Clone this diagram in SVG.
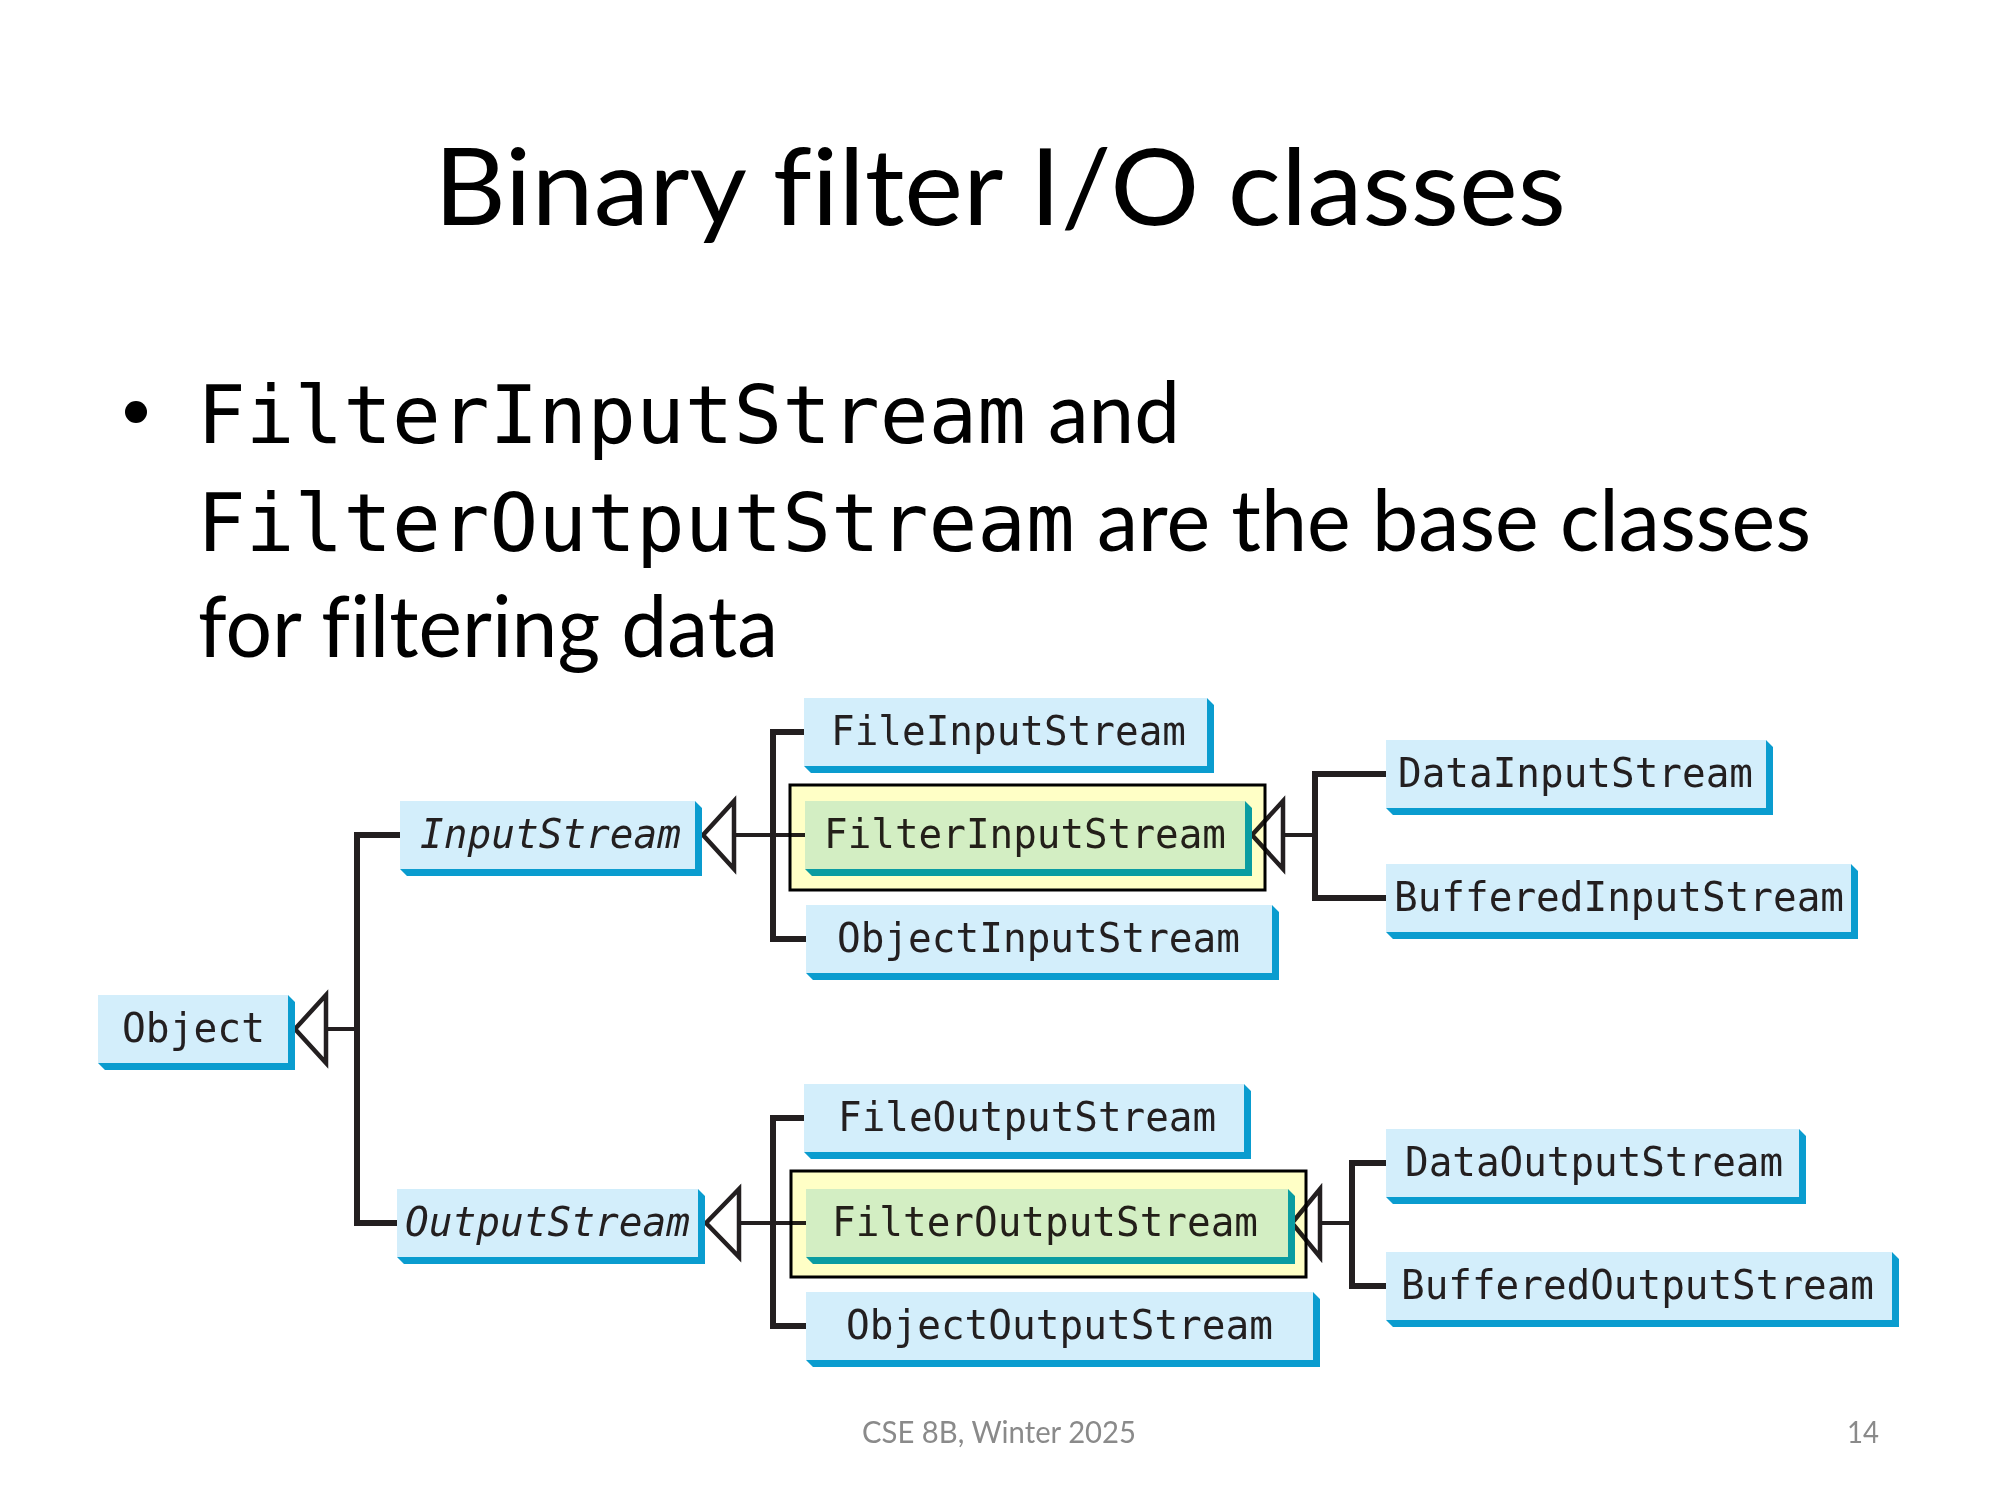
<svg xmlns="http://www.w3.org/2000/svg" width="2000" height="1500" viewBox="0 0 2000 1500">
  <style>
    text { font-variant-ligatures: none; }
    .title { font-family: Lato, "Open Sans", "Liberation Sans", sans-serif; font-size: 106px; fill: #000; }
    .body { font-family: Lato, "Open Sans", "Liberation Sans", sans-serif; font-size: 86px; fill: #000; }
    .code { font-family: "DejaVu Sans Mono", "Liberation Mono", monospace; font-size: 81px; fill: #000; }
    .foot { font-family: Lato, "Open Sans", "Liberation Sans", sans-serif; font-size: 30px; fill: #8a8a8a; }
    .box { fill: #d3eefb; }
    .shadow { fill: #0a9ccf; }
    .label { font-family: "DejaVu Sans Mono", "Liberation Mono", monospace; font-size: 40px; fill: #231f20; }
    .abstract { font-style: italic; }
    .bus { fill: none; stroke: #231f20; stroke-width: 6; stroke-linejoin: miter; }
    .stub { fill: none; stroke: #231f20; stroke-width: 4; }
    .tri { fill: #ffffff; stroke: #231f20; stroke-width: 4.5; stroke-linejoin: miter; }
    .hl { fill: #ffffc6; mix-blend-mode: multiply; }
    .hlborder { fill: none; stroke: #000; stroke-width: 3; }
  </style>

  <rect width="2000" height="1500" fill="#ffffff"/>

  <!-- slide heading and bullet text -->
  <text class="title" x="434" y="225" textLength="1132" lengthAdjust="spacingAndGlyphs">Binary filter I/O classes</text>
  <circle cx="136" cy="412" r="11" fill="#000"/>
  <text class="code" x="197" y="443">FilterInputStream</text>
  <text class="body" x="1048" y="443" textLength="132" lengthAdjust="spacingAndGlyphs">and</text>
  <text class="code" x="197" y="551">FilterOutputStream</text>
  <text class="body" x="1097" y="551" textLength="714" lengthAdjust="spacingAndGlyphs">are the base classes</text>
  <text class="body" x="198" y="657" textLength="580" lengthAdjust="spacingAndGlyphs">for filtering data</text>

  <!-- inheritance connectors -->
  <g id="connectors">
    <path class="bus" d="M400,835 H357 V1223 H397"/>
    <path class="bus" d="M804,732 H773 V939 H806"/>
    <path class="bus" d="M804,1118 H773 V1326 H806"/>
    <path class="bus" d="M1386,774 H1315 V898 H1386"/>
    <path class="bus" d="M1386,1163 H1352 V1286 H1386"/>
    <path class="stub" d="M326,1029 H357"/>
    <path class="stub" d="M734,835 H805"/>
    <path class="stub" d="M739,1223 H806"/>
    <path class="stub" d="M1283,835 H1315"/>
    <path class="stub" d="M1320,1223 H1352"/>
    <polygon class="tri" points="295,1029 326,995 326,1063"/>
    <polygon class="tri" points="703,835 734,801 734,869"/>
    <polygon class="tri" points="706,1223 739,1189 739,1257"/>
    <polygon class="tri" points="1252,835 1283,801 1283,869"/>
    <polygon class="tri" points="1292,1223 1320,1189 1320,1257"/>
  </g>

  <!-- class boxes: raised tile with blue edge on the right and bottom -->
  <g id="Object">
    <polygon class="shadow" points="288,995 295,1002 295,1070 105,1070 98,1063 288,1063"/>
    <rect class="box" x="98" y="995" width="190" height="68"/>
    <text class="label" x="122" y="1042" textLength="143" lengthAdjust="spacingAndGlyphs">Object</text>
  </g>
  <g id="InputStream">
    <polygon class="shadow" points="695,801 702,808 702,876 407,876 400,869 695,869"/>
    <rect class="box" x="400" y="801" width="295" height="68"/>
    <text class="label abstract" x="420" y="848" textLength="261" lengthAdjust="spacingAndGlyphs">InputStream</text>
  </g>
  <g id="OutputStream">
    <polygon class="shadow" points="698,1189 705,1196 705,1264 404,1264 397,1257 698,1257"/>
    <rect class="box" x="397" y="1189" width="301" height="68"/>
    <text class="label abstract" x="405" y="1236" textLength="285" lengthAdjust="spacingAndGlyphs">OutputStream</text>
  </g>
  <g id="FileInputStream">
    <polygon class="shadow" points="1207,698 1214,705 1214,773 811,773 804,766 1207,766"/>
    <rect class="box" x="804" y="698" width="403" height="68"/>
    <text class="label" x="831" y="745" textLength="355" lengthAdjust="spacingAndGlyphs">FileInputStream</text>
  </g>
  <g id="FilterInputStream">
    <polygon class="shadow" points="1245,801 1252,808 1252,876 812,876 805,869 1245,869"/>
    <rect class="box" x="805" y="801" width="440" height="68"/>
    <text class="label" x="824" y="848" textLength="402" lengthAdjust="spacingAndGlyphs">FilterInputStream</text>
  </g>
  <g id="ObjectInputStream">
    <polygon class="shadow" points="1272,905 1279,912 1279,980 813,980 806,973 1272,973"/>
    <rect class="box" x="806" y="905" width="466" height="68"/>
    <text class="label" x="837" y="952" textLength="403" lengthAdjust="spacingAndGlyphs">ObjectInputStream</text>
  </g>
  <g id="DataInputStream">
    <polygon class="shadow" points="1766,740 1773,747 1773,815 1393,815 1386,808 1766,808"/>
    <rect class="box" x="1386" y="740" width="380" height="68"/>
    <text class="label" x="1398" y="787" textLength="355" lengthAdjust="spacingAndGlyphs">DataInputStream</text>
  </g>
  <g id="BufferedInputStream">
    <polygon class="shadow" points="1851,864 1858,871 1858,939 1393,939 1386,932 1851,932"/>
    <rect class="box" x="1386" y="864" width="465" height="68"/>
    <text class="label" x="1394" y="911" textLength="450" lengthAdjust="spacingAndGlyphs">BufferedInputStream</text>
  </g>
  <g id="FileOutputStream">
    <polygon class="shadow" points="1244,1084 1251,1091 1251,1159 811,1159 804,1152 1244,1152"/>
    <rect class="box" x="804" y="1084" width="440" height="68"/>
    <text class="label" x="838" y="1131" textLength="378" lengthAdjust="spacingAndGlyphs">FileOutputStream</text>
  </g>
  <g id="FilterOutputStream">
    <polygon class="shadow" points="1288,1189 1295,1196 1295,1264 813,1264 806,1257 1288,1257"/>
    <rect class="box" x="806" y="1189" width="482" height="68"/>
    <text class="label" x="832" y="1236" textLength="426" lengthAdjust="spacingAndGlyphs">FilterOutputStream</text>
  </g>
  <g id="ObjectOutputStream">
    <polygon class="shadow" points="1313,1292 1320,1299 1320,1367 813,1367 806,1360 1313,1360"/>
    <rect class="box" x="806" y="1292" width="507" height="68"/>
    <text class="label" x="846" y="1339" textLength="427" lengthAdjust="spacingAndGlyphs">ObjectOutputStream</text>
  </g>
  <g id="DataOutputStream">
    <polygon class="shadow" points="1799,1129 1806,1136 1806,1204 1393,1204 1386,1197 1799,1197"/>
    <rect class="box" x="1386" y="1129" width="413" height="68"/>
    <text class="label" x="1405" y="1176" textLength="378" lengthAdjust="spacingAndGlyphs">DataOutputStream</text>
  </g>
  <g id="BufferedOutputStream">
    <polygon class="shadow" points="1892,1252 1899,1259 1899,1327 1393,1327 1386,1320 1892,1320"/>
    <rect class="box" x="1386" y="1252" width="506" height="68"/>
    <text class="label" x="1401" y="1299" textLength="473" lengthAdjust="spacingAndGlyphs">BufferedOutputStream</text>
  </g>

  <!-- yellow highlight frames over the two filter base classes -->
  <g id="highlight-input">
    <rect class="hl" x="790" y="785" width="475" height="105"/>
    <rect class="hlborder" x="790" y="785" width="475" height="105"/>
  </g>
  <g id="highlight-output">
    <rect class="hl" x="791" y="1171" width="515" height="106"/>
    <rect class="hlborder" x="791" y="1171" width="515" height="106"/>
  </g>

  <!-- footer -->
  <text class="foot" x="862" y="1443" textLength="274" lengthAdjust="spacingAndGlyphs">CSE 8B, Winter 2025</text>
  <text class="foot" x="1847" y="1443" textLength="32" lengthAdjust="spacingAndGlyphs">14</text>
</svg>
